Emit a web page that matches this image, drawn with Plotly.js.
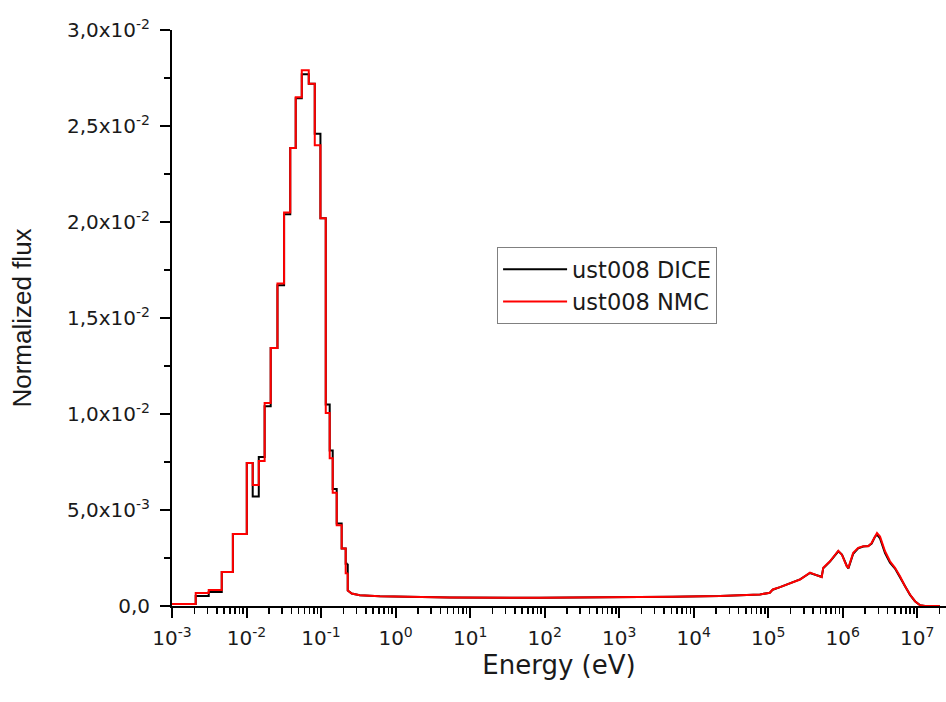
<!DOCTYPE html>
<html><head><meta charset="utf-8">
<script src="https://cdn.plot.ly/plotly-3.0.1.min.js"></script>
<style>html,body{margin:0;padding:0;background:#fff;}#chart{width:946px;height:702px;}</style>
</head><body><div id="chart"></div>
<script>
// Thermal region: histogram bin edges (eV) and bin values
const thermalEdges = [1e-3, 2.08e-3, 3.11e-3, 4.65e-3, 6.56e-3, 1.008e-2, 1.21e-2, 1.46e-2, 1.75e-2, 2.11e-2,
  2.60e-2, 3.19e-2, 3.86e-2, 4.57e-2, 5.51e-2, 6.84e-2, 8.23e-2, 9.81e-2, 0.1156, 0.1306,
  0.1433, 0.1621, 0.189, 0.214, 0.228];
const thermalNMC = [1.0e-4, 6.8e-4, 8.3e-4, 1.77e-3, 3.75e-3, 7.45e-3, 6.3e-3, 7.55e-3, 1.057e-2, 1.344e-2,
  1.68e-2, 2.05e-2, 2.385e-2, 2.65e-2, 2.79e-2, 2.72e-2, 2.40e-2, 2.02e-2, 1.005e-2, 7.7e-3,
  5.9e-3, 4.2e-3, 3.0e-3, 1.7e-3];
const thermalDICE = [1.0e-4, 5.2e-4, 7.3e-4, 1.77e-3, 3.75e-3, 7.45e-3, 5.7e-3, 7.76e-3, 1.04e-2, 1.344e-2,
  1.67e-2, 2.04e-2, 2.385e-2, 2.645e-2, 2.77e-2, 2.72e-2, 2.46e-2, 2.02e-2, 1.05e-2, 8.1e-3,
  6.1e-3, 4.3e-3, 3.0e-3, 2.2e-3];

// Epithermal / fast region: fine-group flux (eV)
const fastEnergy = [0.228, 0.258, 0.331, 0.614, 1.42, 5.35,
  86, 1.02e3, 5.26e3, 2.25e4, 4.17e4, 7.74e4, 1.05e5, 1.15e5, 1.44e5, 1.96e5,
  2.67e5, 3.63e5, 4.24e5, 5.21e5, 5.47e5, 6.73e5, 8.71e5, 9.76e5, 1.13e6, 1.19e6,
  1.38e6, 1.61e6, 1.88e6, 2.20e6, 2.44e6, 2.70e6, 2.88e6, 3.16e6, 3.69e6, 4.30e6,
  5.02e6, 5.86e6, 6.84e6, 7.98e6, 9.31e6, 1.09e7, 1.27e7, 2.0e7];
const fastNMC = [8.1e-4, 6.5e-4, 5.6e-4, 5.05e-4, 4.8e-4, 4.4e-4,
  4.3e-4, 4.4e-4, 4.8e-4, 5.2e-4, 5.5e-4, 6.0e-4, 6.9e-4, 8.6e-4, 9.8e-4, 1.16e-3,
  1.38e-3, 1.74e-3, 1.64e-3, 1.5e-3, 1.99e-3, 2.33e-3, 2.88e-3, 2.66e-3, 2.07e-3, 2.0e-3,
  2.77e-3, 3.03e-3, 3.11e-3, 3.11e-3, 3.29e-3, 3.64e-3, 3.80e-3, 3.62e-3, 2.85e-3, 2.33e-3,
  1.99e-3, 1.55e-3, 1.03e-3, 6.0e-4, 2.5e-4, 4e-5, 0, 0];
const fastDICE = [8.1e-4, 6.5e-4, 5.6e-4, 5.05e-4, 4.8e-4, 4.4e-4,
  4.3e-4, 4.4e-4, 4.8e-4, 5.2e-4, 5.5e-4, 6.0e-4, 6.9e-4, 8.5e-4, 9.8e-4, 1.17e-3,
  1.39e-3, 1.72e-3, 1.64e-3, 1.52e-3, 1.97e-3, 2.31e-3, 2.85e-3, 2.68e-3, 2.1e-3, 1.95e-3,
  2.72e-3, 3.0e-3, 3.1e-3, 3.12e-3, 3.25e-3, 3.6e-3, 3.72e-3, 3.52e-3, 2.75e-3, 2.25e-3,
  1.95e-3, 1.5e-3, 1.0e-3, 5.8e-4, 2.5e-4, 4e-5, 0, 0];

const xTickExponents = [-3, -2, -1, 0, 1, 2, 3, 4, 5, 6, 7];
const yTickValues = [0, 0.005, 0.010, 0.015, 0.020, 0.025, 0.030];
const yTickLabels = ['0,0', '5,0x10<sup>-3</sup>', '1,0x10<sup>-2</sup>', '1,5x10<sup>-2</sup>',
  '2,0x10<sup>-2</sup>', '2,5x10<sup>-2</sup>', '3,0x10<sup>-2</sup>'];
const seriesNames = ['ust008 DICE', 'ust008 NMC'];
const seriesColors = ['#000000', '#ff0000'];

const xTickVals = xTickExponents.map(e => Math.pow(10, e));
const xTickText = xTickExponents.map(e => '10<sup>' + e + '</sup>');
const xMinor = [];
xTickExponents.forEach(e => { for (let k = 2; k <= 9; k++) xMinor.push(k * Math.pow(10, e)); });

function seriesTraces(idx, thermal, fast) {
  // histogram steps: repeat final bin value up to the last edge
  const yThermal = thermal.concat([thermal[thermal.length - 1]]);
  // fast part starts where thermal steps end, dropping from the last bin value
  const xFast = [thermalEdges[thermalEdges.length - 1]].concat(fastEnergy);
  const yFast = [thermal[thermal.length - 1]].concat(fast);
  return [
    {x: thermalEdges, y: yThermal, name: seriesNames[idx], legendgroup: 'g' + idx, type: 'scatter', mode: 'lines',
     line: {color: seriesColors[idx], width: 2, shape: 'hv'}},
    {x: xFast, y: yFast, name: seriesNames[idx], legendgroup: 'g' + idx, showlegend: false, type: 'scatter', mode: 'lines',
     line: {color: seriesColors[idx], width: 2, shape: 'linear'}}
  ];
}

const hFont = 'DejaVu Sans, sans-serif';
const traces = seriesTraces(0, thermalDICE, fastDICE).concat(seriesTraces(1, thermalNMC, fastNMC));

const layout = {
  width: 946, height: 702,
  margin: {l: 172, r: 0, t: 30, b: 96},
  paper_bgcolor: '#ffffff', plot_bgcolor: '#ffffff',
  showlegend: true,
  legend: {x: 0.42, y: 0.623, xanchor: 'left', yanchor: 'top',
    bordercolor: '#808080', borderwidth: 1, bgcolor: '#ffffff',
    font: {family: hFont, size: 22.5, color: '#1a1a1a'}, itemwidth: 64, tracegroupgap: 0},
  xaxis: {
    type: 'log', range: [-3, 7.385],
    tickmode: 'array', tickvals: xTickVals, ticktext: xTickText,
    ticks: 'outside', ticklen: 10, tickwidth: 2, tickcolor: '#000',
    showline: true, linecolor: '#000', linewidth: 2, zeroline: false, showgrid: false,
    tickfont: {family: hFont, size: 20, color: '#1a1a1a'},
    ticklabelstandoff: 3,
    minor: {tickmode: 'array', tickvals: xMinor, ticks: 'outside', ticklen: 6, tickwidth: 1.5, tickcolor: '#000', showgrid: false},
    title: {text: 'Energy (eV)', font: {family: hFont, size: 26, color: '#1a1a1a'}, standoff: 0},
    automargin: false
  },
  yaxis: {
    range: [0, 0.03],
    tickmode: 'array', tickvals: yTickValues, ticktext: yTickLabels,
    ticks: 'outside', ticklen: 10, tickwidth: 2, tickcolor: '#000',
    showline: true, linecolor: '#000', linewidth: 2, zeroline: false, showgrid: false,
    tickfont: {family: hFont, size: 20, color: '#1a1a1a'},
    ticklabelstandoff: 6,
    minor: {dtick: 0.0025, ticks: 'outside', ticklen: 6, tickwidth: 1.5, tickcolor: '#000', showgrid: false},
    title: {text: 'Normalized flux', font: {family: 'Liberation Sans, Arial, sans-serif', size: 26, color: '#1a1a1a'}, standoff: 28},
    automargin: false
  }
};

Plotly.newPlot('chart', traces, layout, {displayModeBar: false, staticPlot: true});
</script>
</body></html>
